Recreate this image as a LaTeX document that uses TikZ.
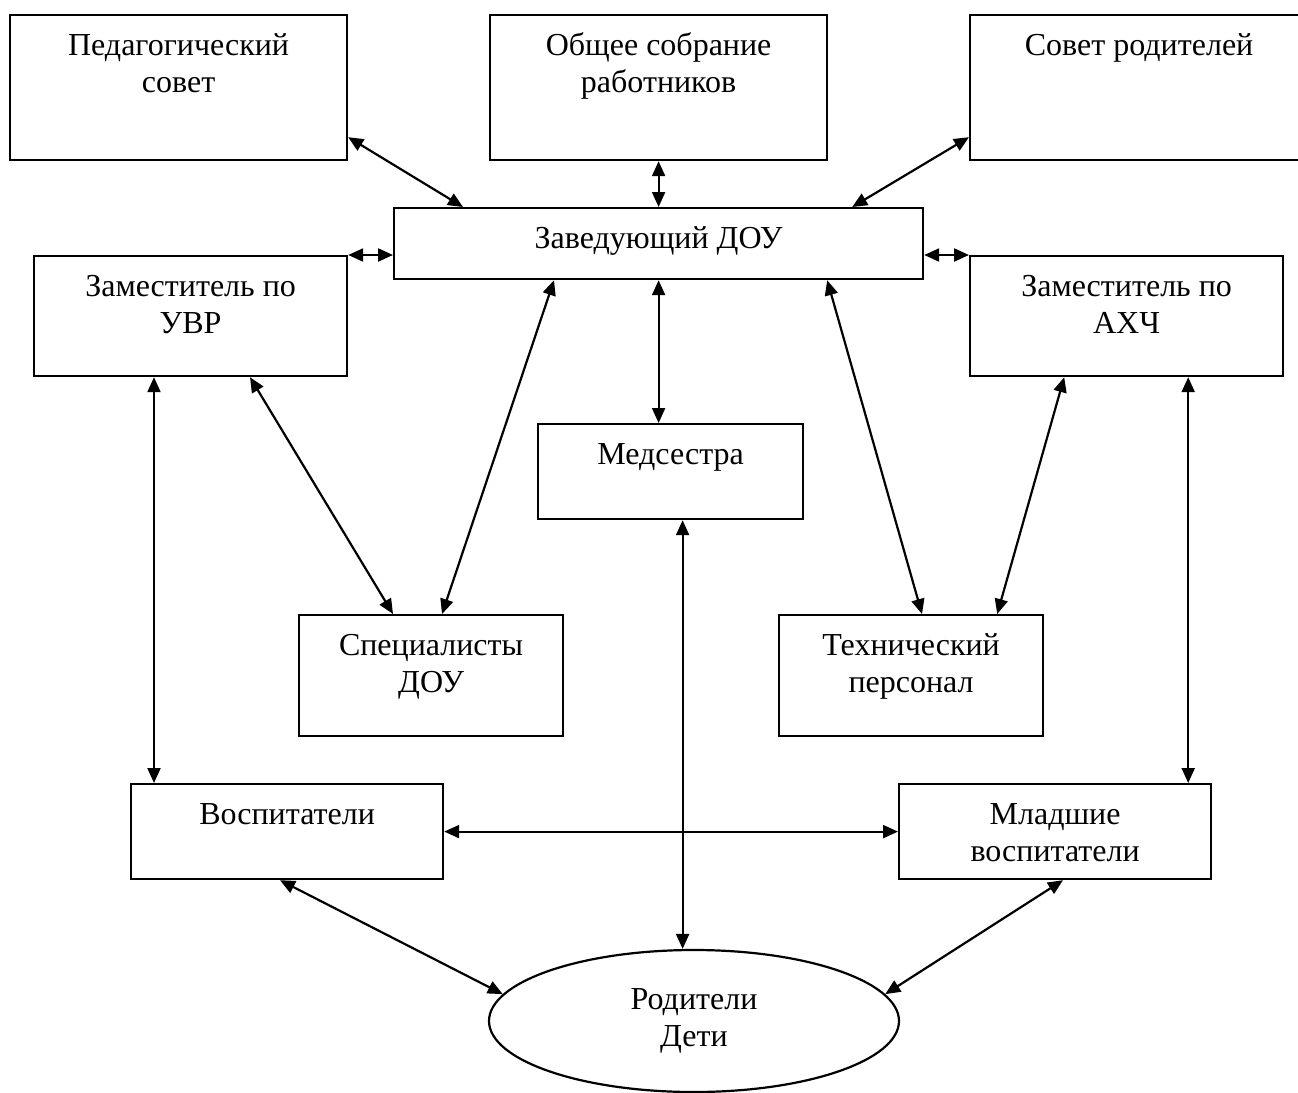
\documentclass[tikz,border=0pt]{standalone}
\usepackage{fontspec}
\setmainfont{Liberation Serif}
\usetikzlibrary{arrows.meta,shapes.geometric,calc}
\tikzset{
  box/.style={draw=black, line width=2.2pt, rectangle, inner sep=0pt, anchor=north west},
  lbl/.style={anchor=base, align=center, inner sep=0pt, font=\fontsize{32}{37}\selectfont},
  oval/.style={draw=black, line width=2.2pt, ellipse, inner sep=0pt, align=center, font=\fontsize{32}{37}\selectfont},
  link/.style={line width=2.2pt, {Triangle[length=15pt,width=13pt]}-{Triangle[length=15pt,width=13pt]}}
}
\begin{document}
\begin{tikzpicture}[x=1pt,y=-1pt]
\useasboundingbox[fill=white] (0,0) rectangle (1298,1092);
% boxes
\node[box, minimum width=337pt, minimum height=145pt] (ped) at (9,14) {};
\node[box, minimum width=337pt, minimum height=145pt] (obs) at (489,14) {};
\node[box, minimum width=338pt, minimum height=145pt] (sov) at (969,14) {};
\node[box, minimum width=529pt, minimum height=71pt] (zav) at (393,207) {};
\node[box, minimum width=313pt, minimum height=120pt] (uvr) at (33,255) {};
\node[box, minimum width=313pt, minimum height=120pt] (axc) at (969,255) {};
\node[box, minimum width=265pt, minimum height=95pt] (med) at (537,423) {};
\node[box, minimum width=264pt, minimum height=121pt] (spec) at (298,614) {};
\node[box, minimum width=264pt, minimum height=121pt] (tech) at (778,614) {};
\node[box, minimum width=312pt, minimum height=95pt] (vos) at (130,783) {};
\node[box, minimum width=312pt, minimum height=95pt] (mlv) at (898,783) {};
\node[oval, minimum width=410pt, minimum height=142pt] (rod) at (694,1021) {Родители\\Дети};
% labels (anchor = baseline of the last line)
\node[lbl] (pedT) at ([yshift=-78pt]ped.north) {Педагогический\\совет};
\node[lbl] (obsT) at ([yshift=-78pt]obs.north) {Общее собрание\\работников};
\node[lbl] (sovT) at ([yshift=-41pt]sov.north) {Совет родителей};
\node[lbl] (zavT) at ([yshift=-41pt]zav.north) {Заведующий ДОУ};
\node[lbl] (uvrT) at ([yshift=-78pt]uvr.north) {Заместитель по\\УВР};
\node[lbl] (axcT) at ([yshift=-78pt]axc.north) {Заместитель по\\АХЧ};
\node[lbl] (medT) at ([yshift=-41pt]med.north) {Медсестра};
\node[lbl] (specT) at ([yshift=-78pt]spec.north) {Специалисты\\ДОУ};
\node[lbl] (techT) at ([yshift=-78pt]tech.north) {Технический\\персонал};
\node[lbl] (vosT) at ([yshift=-41pt]vos.north) {Воспитатели};
\node[lbl] (mlvT) at ([yshift=-78pt]mlv.north) {Младшие\\воспитатели};
% connectors
\draw[link] ([yshift=24pt]ped.south east) -- ([xshift=70pt]zav.north west);
\draw[link] (obs.south) -- (obs.south |- zav.north);
\draw[link] ([yshift=24pt]sov.south west) -- ([xshift=-72pt]zav.north east);
\draw[link] (uvr.north east) -- (zav.west |- uvr.north east);
\draw[link] (zav.east |- axc.north west) -- (axc.north west);
\draw[link] ([xshift=161pt]zav.south west) -- ([xshift=144pt]spec.north west);
\draw[link] (zav.south) -- (zav.south |- med.north);
\draw[link] ([xshift=-97pt]zav.south east) -- ([xshift=144pt]tech.north west);
\draw[link] ([xshift=217pt]uvr.south west) -- ([xshift=95pt]spec.north west);
\draw[link] ([xshift=121pt]uvr.south west) -- ([xshift=121pt]uvr.south west |- vos.north);
\draw[link] ([xshift=-220pt]axc.south east) -- ([xshift=-47pt]tech.north east);
\draw[link] ([xshift=-96pt]axc.south east) -- ([xshift=-96pt]axc.south east |- mlv.north);
\draw[link] ([xshift=12pt]med.south) -- ([xshift=12pt]med.south |- rod.north);
\draw[link] (vos.east) -- (mlv.west);
\draw[link] ([xshift=150pt]vos.south west) -- (rod.172.5);
\draw[link] ([xshift=165pt]mlv.south west) -- (rod.8.4);
\end{tikzpicture}
\end{document}
